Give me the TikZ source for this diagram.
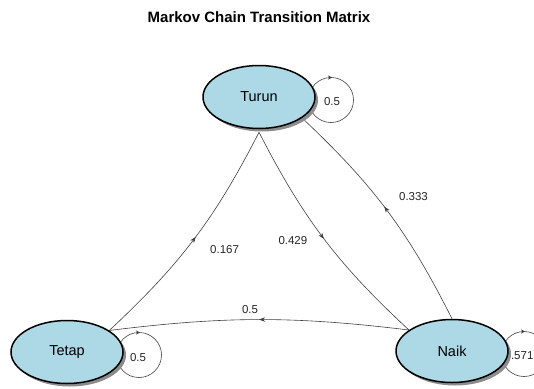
\documentclass[tikz,border=0pt]{standalone}
\usepackage{fontspec}
\setmainfont{Liberation Sans}
\usetikzlibrary{shapes.geometric,arrows.meta,decorations.markings,shadows,backgrounds}
\definecolor{nodeblue}{HTML}{ADD8E6}
\tikzset{
  markovstate/.style={ellipse, draw=black, line width=1.5pt, fill=nodeblue,
    minimum width=112pt, minimum height=63pt, inner sep=0pt,
    font=\fontsize{14.5}{17}\selectfont,
    drop shadow={shadow xshift=3pt, shadow yshift=-3pt, fill=black!45, opacity=1}},
  trans/.style={draw=black!75, line width=0.6pt},
  midarrow/.style={postaction={decorate, decoration={markings,
    mark=at position #1 with {\arrow{Stealth[length=6pt,width=4.5pt]}}}}},
  looptip/.style={draw=black!75, line width=0.6pt, -{Stealth[length=4pt,width=4pt]}},
  elabel/.style={font=\fontsize{11.5}{13}\selectfont, text=black!85, inner sep=0pt},
  titlestyle/.style={font=\bfseries\fontsize{15}{18}\selectfont, inner sep=0pt}
}
\begin{document}
\begin{tikzpicture}[x=1pt,y=-1pt]
\useasboundingbox (0,0) rectangle (534,388);
\clip (0,0) rectangle (534,388);
\node[titlestyle] (title) at (259,17.5) {Markov Chain Transition Matrix};
\node[markovstate] (turun) at (259,97) {Turun};
\node[markovstate] (tetap) at (67,352) {Tetap};
\node[markovstate] (naik) at (452,351) {Naik};
\coordinate (turunloop) at ([shift={(72,3)}]turun.center);
\coordinate (tetaploop) at ([shift={(72,3)}]tetap.center);
\coordinate (naikloop) at ([shift={(72,3)}]naik.center);
\begin{pgfonlayer}{background}
\fill[white] (0,0) rectangle (534,388);
% transitions
\draw[trans, midarrow=0.51] (tetap.27) to[bend right=10]
  node[elabel, pos=0.51, xshift=29pt, yshift=-12pt] (l167) {0.167} ([yshift=-3pt]turun.south);
\draw[trans, midarrow=0.5] ([yshift=-3pt]turun.south) to[bend right=10]
  node[elabel, pos=0.5, xshift=-31pt, yshift=-2pt] (l429) {0.429} (naik.154);
\draw[trans, midarrow=0.52] (naik.north) to[bend right=10]
  node[elabel, pos=0.52, xshift=29pt, yshift=11pt] (l333) {0.333} (turun.334);
\draw[trans, midarrow=0.5] (naik.154) to[bend right=7]
  node[elabel, pos=0.5, xshift=-9pt, yshift=10.5pt] (l5) {0.5} (tetap.27);
% self loops
\draw[trans] (turunloop) circle[radius=22.5];
\draw[trans] (tetaploop) circle[radius=22.5];
\draw[trans] (naikloop) circle[radius=22.5];
\draw[looptip] ([shift={(-1.5,-22.5)}]turunloop) -- ([shift={(1,-22.5)}]turunloop);
\draw[looptip] ([shift={(-1.5,-22.5)}]tetaploop) -- ([shift={(1,-22.5)}]tetaploop);
\draw[looptip] ([shift={(-1.5,-22.5)}]naikloop) -- ([shift={(1,-22.5)}]naikloop);
\node[elabel] (turunlooplabel) at ([shift={(1,2)}]turunloop) {0.5};
\node[elabel] (tetaplooplabel) at ([shift={(-1,3)}]tetaploop) {0.5};
\node[elabel] (naiklooplabel) at ([shift={(-5,2)}]naikloop) {0.571};
\end{pgfonlayer}
\end{tikzpicture}
\end{document}
